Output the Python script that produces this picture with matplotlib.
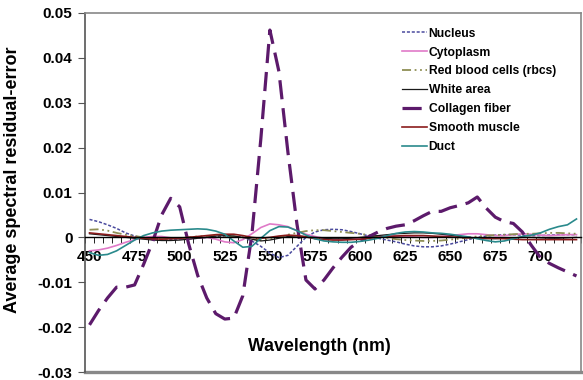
import matplotlib
matplotlib.use('AGG')
import matplotlib.pyplot as plt
import numpy as np

plt.rcParams['font.family'] = ['Liberation Sans', 'DejaVu Sans']
plt.rcParams['font.weight'] = 'bold'

wavelength = list(range(450, 721, 5))

nucleus = [0.0040, 0.0035, 0.0028, 0.0020, 0.0010, 0.0003, -0.0002, -0.0004, -0.0005, -0.0005,
           -0.0004, -0.0003, -0.0002, 0.0000, 0.0002, 0.0003, 0.0002, 0.0000, -0.0008, -0.0020,
           -0.0035, -0.0045, -0.0040, -0.0020, 0.0000, 0.0012, 0.0017, 0.0018, 0.0017, 0.0013,
           0.0008, 0.0003, -0.0002, -0.0006, -0.0010, -0.0015, -0.0019, -0.0021, -0.0021, -0.0019,
           -0.0015, -0.0010, -0.0005, 0.0000, 0.0003, 0.0005, 0.0006, 0.0006, 0.0005, 0.0004,
           0.0004, 0.0005, 0.0006, 0.0006, 0.0006]
cytoplasm = [-0.0030, -0.0028, -0.0024, -0.0018, -0.0011, -0.0005, 0.0000, 0.0002, 0.0002, -0.0001,
             -0.0003, -0.0003, -0.0001, 0.0000, -0.0004, -0.0010, -0.0012, -0.0005, 0.0008, 0.0022,
             0.0030, 0.0028, 0.0024, 0.0015, 0.0007, 0.0002, -0.0002, -0.0004, -0.0005, -0.0004,
             -0.0002, 0.0000, 0.0002, 0.0003, 0.0003, 0.0002, 0.0001, 0.0000, 0.0000, 0.0002,
             0.0004, 0.0006, 0.0008, 0.0008, 0.0006, 0.0004, 0.0004, 0.0006, 0.0008, 0.0007,
             0.0005, 0.0004, 0.0005, 0.0006, 0.0006]
rbcs = [0.0017, 0.0018, 0.0015, 0.0010, 0.0006, 0.0003, 0.0000, -0.0002, -0.0003, -0.0003,
        -0.0002, 0.0000, 0.0002, 0.0003, 0.0004, 0.0003, 0.0002, 0.0000, -0.0004, -0.0006,
        -0.0004, 0.0000, 0.0006, 0.0010, 0.0014, 0.0016, 0.0016, 0.0014, 0.0012, 0.0010,
        0.0008, 0.0005, 0.0002, -0.0001, -0.0004, -0.0006, -0.0007, -0.0008, -0.0008, -0.0007,
        -0.0005, -0.0003, 0.0000, 0.0002, 0.0004, 0.0005, 0.0006, 0.0007, 0.0008, 0.0008,
        0.0009, 0.0010, 0.0010, 0.0009, 0.0008]
white_area = [0.0008, 0.0006, 0.0004, 0.0002, 0.0000, -0.0002, -0.0004, -0.0006, -0.0007, -0.0007,
              -0.0006, -0.0004, -0.0002, 0.0000, 0.0003, 0.0004, 0.0003, 0.0000, -0.0004, -0.0008,
              -0.0006, -0.0002, 0.0002, 0.0003, 0.0002, 0.0000, -0.0002, -0.0003, -0.0003, -0.0002,
              0.0000, 0.0002, 0.0004, 0.0006, 0.0008, 0.0009, 0.0010, 0.0010, 0.0009, 0.0007,
              0.0005, 0.0002, 0.0000, -0.0002, -0.0003, -0.0003, -0.0002, -0.0001, 0.0000, 0.0000,
              -0.0001, -0.0002, -0.0002, -0.0001, 0.0000]
collagen = [-0.0195, -0.0163, -0.0135, -0.0111, -0.0111, -0.0106, -0.0060, -0.0010, 0.0050, 0.0087,
            0.0068, -0.0015, -0.0085, -0.0135, -0.0170, -0.0182, -0.0180, -0.0130, 0.0005, 0.0220,
            0.0462, 0.0370, 0.0190, 0.0030, -0.0095, -0.0115, -0.0095, -0.0068, -0.0044, -0.0022,
            -0.0008, 0.0002, 0.0012, 0.0020, 0.0025, 0.0028, 0.0037, 0.0048, 0.0058, 0.0058,
            0.0066, 0.0071, 0.0077, 0.0090, 0.0065, 0.0045, 0.0035, 0.0031, 0.0012, -0.0018,
            -0.0045, -0.0058, -0.0068, -0.0077, -0.0086]
smooth_muscle = [0.0010, 0.0008, 0.0006, 0.0004, 0.0002, 0.0000, -0.0002, -0.0003, -0.0004, -0.0003,
                 -0.0002, 0.0000, 0.0002, 0.0004, 0.0006, 0.0007, 0.0007, 0.0004, 0.0000, -0.0002,
                 0.0000, 0.0003, 0.0005, 0.0004, 0.0001, -0.0003, -0.0005, -0.0006, -0.0006, -0.0005,
                 -0.0004, -0.0002, 0.0000, 0.0002, 0.0003, 0.0004, 0.0004, 0.0004, 0.0003, 0.0002,
                 0.0001, 0.0000, -0.0001, -0.0002, -0.0002, -0.0002, -0.0003, -0.0004, -0.0005, -0.0005,
                 -0.0005, -0.0005, -0.0005, -0.0005, -0.0005]
duct = [-0.0034, -0.0040, -0.0038, -0.0030, -0.0018, -0.0006, 0.0004, 0.0010, 0.0014, 0.0016,
        0.0017, 0.0018, 0.0019, 0.0018, 0.0014, 0.0007, -0.0008, -0.0022, -0.0020, -0.0002,
        0.0015, 0.0024, 0.0023, 0.0015, 0.0005, -0.0003, -0.0008, -0.0010, -0.0011, -0.0011,
        -0.0009, -0.0006, -0.0002, 0.0004, 0.0009, 0.0012, 0.0013, 0.0012, 0.0010, 0.0009,
        0.0007, 0.0004, 0.0001, -0.0003, -0.0007, -0.0010, -0.0008, -0.0003, 0.0002, 0.0005,
        0.0010, 0.0018, 0.0024, 0.0028, 0.0041]

y_ticks = [-0.03, -0.02, -0.01, 0, 0.01, 0.02, 0.03, 0.04, 0.05]
y_labels = ['-0.03', '-0.02', '-0.01', '0', '0.01', '0.02', '0.03', '0.04', '0.05']
x_labels = [450, 475, 500, 525, 550, 575, 600, 625, 650, 675, 700]

fig = plt.figure(figsize=(5.83, 3.80), dpi=100)
ax = fig.add_axes([85 / 583, 8 / 380, 496 / 583, 359 / 380])

ax.plot(wavelength, nucleus, color='#4a4a9e', lw=1.1, dashes=(2, 1.2), label='Nucleus')
ax.plot(wavelength, cytoplasm, color='#e07ac8', lw=1.2, label='Cytoplasm')
ax.plot(wavelength, rbcs, color='#8f8f55', lw=1.3, dashes=(5, 2, 1, 2, 1, 2), label='Red blood cells (rbcs)')
ax.plot(wavelength, white_area, color='#1a1a1a', lw=0.9, label='White area')
ax.plot(wavelength, collagen, color='#5c1a6b', lw=2.3, dashes=(6, 2.8), label='Collagen fiber')
ax.plot(wavelength, smooth_muscle, color='#8b1c1c', lw=1.2, label='Smooth muscle')
ax.plot(wavelength, duct, color='#2a8a8c', lw=1.2, label='Duct')

ax.set_xlim(447.5, 722.5)
ax.set_ylim(-0.03, 0.05)

# x axis crosses at zero, frame drawn in grey
ax.spines['bottom'].set_position(('data', 0))
ax.spines['bottom'].set_color('#000000')
ax.spines['bottom'].set_linewidth(1.0)
ax.spines['left'].set_color('#555555')
ax.spines['left'].set_linewidth(1.2)
for s in ['top', 'right']:
    ax.spines[s].set_color('#888888')
    ax.spines[s].set_linewidth(1.2)
ax.axhline(-0.03, color='#888888', lw=2.4, clip_on=False)

ax.set_xticks(x_labels)
ax.set_xticklabels([str(v) for v in x_labels], fontsize=11, fontweight='bold')
ax.set_xticks(np.arange(447.5, 722.6, 5), minor=True)
ax.tick_params(axis='x', which='major', length=0, pad=9)
ax.tick_params(axis='x', which='minor', length=4, direction='out', color='#000000')

ax.set_yticks(y_ticks)
ax.set_yticklabels(y_labels, fontsize=11, fontweight='bold')
ax.tick_params(axis='y', length=5, direction='out', color='#555555', pad=4)

ax.set_ylabel('Average spectral residual-error', fontsize=13, fontweight='bold')
ax.yaxis.set_label_coords(-0.13, 0.535)

ax.text(0.472, 0.07, 'Wavelength (nm)', transform=ax.transAxes, ha='center', va='center',
        fontsize=12.8, fontweight='bold')

ax.legend(loc='upper left', bbox_to_anchor=(0.639, 0.959), frameon=False,
          prop={'size': 8.7, 'weight': 'bold'}, handlelength=2.1, handletextpad=0.1,
          labelspacing=0.57, borderpad=0, borderaxespad=0)

plt.savefig('out.png', dpi=100)
plt.close()
